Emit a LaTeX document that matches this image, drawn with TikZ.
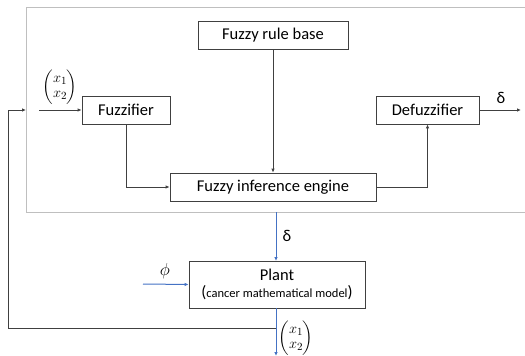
\documentclass[tikz,border=0pt]{standalone}
\usepackage{amsmath}
\usepackage{fontspec}
\setmainfont{Carlito}
\usetikzlibrary{arrows.meta}
\definecolor{boxline}{HTML}{404040}
\definecolor{frameline}{HTML}{BFBFBF}
\definecolor{sigblue}{HTML}{4472C4}
\newcommand{\stvec}{\renewcommand{\arraystretch}{0.82}$\begin{pmatrix} x_1\\ x_2\end{pmatrix}$}
\begin{document}
\begin{tikzpicture}[x=1pt,y=-1pt,
  block/.style={draw=boxline,line width=0.8pt,fill=white,inner sep=0pt,font=\fontsize{16.5}{19}\selectfont},
  conn/.style={draw=boxline,line width=0.8pt,-{Latex[length=4pt,width=3.5pt]}},
  bconn/.style={draw=sigblue,line width=1pt,-{Latex[length=4pt,width=3.5pt]}},
  lbl/.style={inner sep=0pt,font=\fontsize{16.5}{19}\selectfont},
  vec/.style={inner sep=0pt,font=\fontsize{15.5}{18}\selectfont}]
\useasboundingbox (0,0) rectangle (525,356);
% controller frame (open to the right)
\draw[frameline,line width=0.9pt] (530,7) -- (26,7) -- (26,212) -- (530,212);

% controller blocks
\node[block,minimum width=150pt,minimum height=28pt] (rule) at (273,35) {Fuzzy rule base};
\node[block,minimum width=88pt,minimum height=28pt] (fuzz) at (126,110) {Fuzzifier};
\node[block,minimum width=206pt,minimum height=28pt] (inf) at (273,187) {Fuzzy inference engine};
\node[block,minimum width=103pt,minimum height=28pt] (defuz) at (427.5,110) {Defuzzifier};

% plant block
\node[block,minimum width=176pt,minimum height=47pt,align=center] (plant) at (277,284.5)
  {Plant\\[-2pt]{\fontsize{16.5}{19}\selectfont(}{\fontsize{12.5}{15}\selectfont cancer mathematical model}{\fontsize{16.5}{19}\selectfont)}};

% helper points
\coordinate (in) at (39,110);
\coordinate (fbin) at (26,110);
\coordinate (out) at (521,110);
\coordinate (ctrlout) at (276,212);
\coordinate (plantin) at (276,261);
\coordinate (plantout) at (276,308);
\coordinate (tap) at (276,328);
\coordinate (down) at (276,356);
\coordinate (phiin) at (143,284);

% controller connectors
\draw[conn] (in) -- (fuzz.west);
\draw[conn] (fuzz.south) |- (inf.west);
\draw[conn] (rule.south) -- (inf.north);
\draw[conn] (inf.east) -| (defuz.south);
\draw[conn] (defuz.east) -- (out);

% plant connectors
\draw[bconn] (ctrlout) -- (plantin);
\draw[bconn] (phiin) -- (plant.west);
\draw[bconn] (plantout) -- (down);

% feedback path
\draw[conn] (tap) -- (8,328) -- (8,110) -- (fbin);

% labels
\node[vec] (xin) at (60,87) {\stvec};
\node[lbl] (dout) at (501,98) {δ};
\node[lbl] (dctrl) at (287,236) {δ};
\node[lbl] (phi) at (165,271) {$\phi$};
\node[vec] (xout) at (296,338) {\stvec};
\end{tikzpicture}
\end{document}
